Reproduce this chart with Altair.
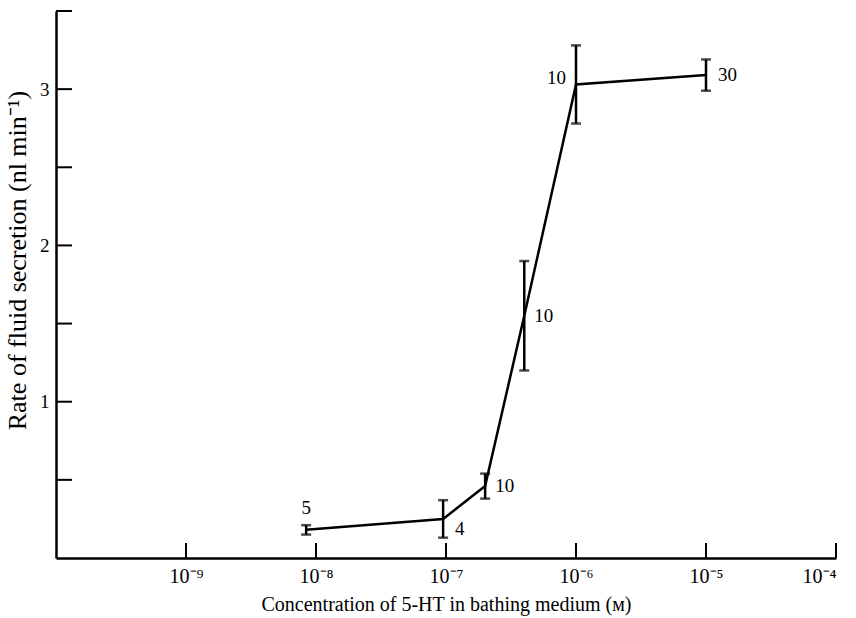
import altair as alt
import pandas as pd

# 5-HT concentration (M) and mean secretion rate (nl/min) with error half-widths
conc = [8.4e-9, 9.5e-8, 2.0e-7, 4.0e-7, 1.0e-6, 1.0e-5]
rate = [0.18, 0.25, 0.46, 1.55, 3.03, 3.09]
err = [0.03, 0.12, 0.08, 0.35, 0.25, 0.10]
n_obs = ["5", "4", "10", "10", "10", "30"]

x_tick_values = [1e-9, 1e-8, 1e-7, 1e-6, 1e-5, 1e-4]
x_tick_labels = ["10⁻⁹", "10⁻⁸", "10⁻⁷", "10⁻⁶", "10⁻⁵", "10⁻⁴"]
y_tick_values = [0.5, 1.0, 1.5, 2.0, 2.5, 3.0, 3.5]
y_tick_labels = ["", "1", "", "2", "", "3", ""]

FONT = "Liberation Serif"
W, H = 780, 547

df = pd.DataFrame({"conc": conc, "rate": rate, "n": n_obs})
df["lo"] = [r - e for r, e in zip(rate, err)]
df["hi"] = [r + e for r, e in zip(rate, err)]

x_label_expr = " : ".join(
    f"datum.value < {v * 3:.0e} ? '{lab}'" for v, lab in zip(x_tick_values, x_tick_labels)
) + " : ''"
y_label_expr = " : ".join(
    f"datum.value == {v} ? '{lab}'" for v, lab in zip(y_tick_values, y_tick_labels)
) + " : ''"

x_scale = alt.Scale(type="log", domain=[1e-10, 1e-4], nice=False)
y_scale = alt.Scale(domain=[0, 3.5], nice=False)

x_enc = alt.X(
    "conc:Q", scale=x_scale,
    axis=alt.Axis(
        title="Concentration of 5-HT in bathing medium (ᴍ)",
        values=x_tick_values, labelExpr=x_label_expr, ticks=False, grid=False,
        domainColor="black", domainWidth=2.5, labelFont=FONT, labelFontSize=20,
        labelColor="black", labelPadding=8, titleFont=FONT, titleFontSize=20,
        titleFontWeight="normal", titleColor="black", titlePadding=8,
    ),
)
y_enc = alt.Y(
    "rate:Q", scale=y_scale,
    axis=alt.Axis(
        title="Rate of fluid secretion (nl min⁻¹)",
        values=y_tick_values, labelExpr=y_label_expr, ticks=False, grid=False,
        domainColor="black", domainWidth=2.5, labelFont=FONT, labelFontSize=19,
        labelColor="black", labelPadding=7, titleFont=FONT, titleFontSize=26,
        titleFontWeight="normal", titleColor="black", titlePadding=9,
        titleY=249,
    ),
)

base = alt.Chart(df)

line = base.mark_line(color="black", strokeWidth=2.5).encode(x=x_enc, y=y_enc)

bars = base.mark_rule(color="black", strokeWidth=2.5).encode(
    x="conc:Q", y="lo:Q", y2="hi:Q"
)
cap_lo = base.mark_tick(color="black", orient="horizontal", size=10, thickness=2.5).encode(
    x="conc:Q", y="lo:Q"
)
cap_hi = base.mark_tick(color="black", orient="horizontal", size=10, thickness=2.5).encode(
    x="conc:Q", y="hi:Q"
)

# inward-pointing axis ticks
xticks = alt.Chart(pd.DataFrame({"v": x_tick_values})).mark_rule(
    color="black", strokeWidth=2
).encode(x=alt.X("v:Q", scale=x_scale), y=alt.value(H), y2=alt.value(H - 15))
yticks = alt.Chart(pd.DataFrame({"v": y_tick_values})).mark_rule(
    color="black", strokeWidth=2
).encode(y=alt.Y("v:Q", scale=y_scale), x=alt.value(0), x2=alt.value(16))

# sample-size annotations beside each point
offsets = [(0, -22, "center"), (12, 10, "left"), (10, 0, "left"),
           (10, 0, "left"), (-10, -6, "right"), (12, 0, "left")]
labels = []
for i, (dx, dy, align) in enumerate(offsets):
    labels.append(
        alt.Chart(df.iloc[[i]]).mark_text(
            font=FONT, fontSize=19, color="black", dx=dx, dy=dy,
            align=align, baseline="middle",
        ).encode(x="conc:Q", y="rate:Q", text="n:N")
    )

chart = alt.layer(line, bars, cap_lo, cap_hi, xticks, yticks, *labels).properties(
    width=W, height=H,
    autosize=alt.AutoSizeParams(type="none"),
    padding={"left": 56, "top": 11, "right": 20, "bottom": 60},
    background="white",
).configure_view(stroke=None)

chart.save("out.html", embed_options={"renderer": "svg", "actions": False})
